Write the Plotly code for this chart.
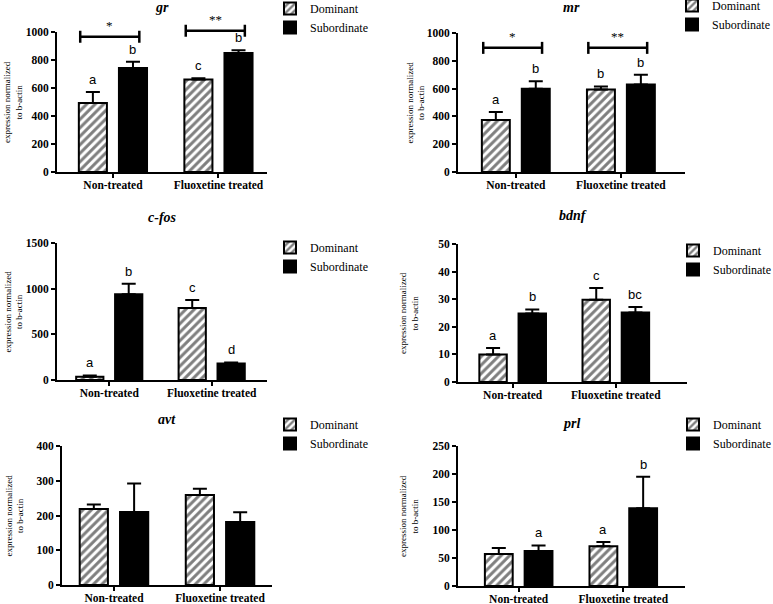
import plotly.graph_objects as go

# ---------------- data ----------------
groups = ["Non-treated", "Fluoxetine treated"]
series_names = ["Dominant", "Subordinate"]
genes = ["gr", "mr", "c-fos", "bdnf", "avt", "prl"]

gr_dom = [493, 660]
gr_dom_err = [78, 9]
gr_sub = [743, 850]
gr_sub_err = [45, 19]

mr_dom = [375, 594]
mr_dom_err = [57, 22]
mr_sub = [599, 630]
mr_sub_err = [53, 69]

cfos_dom = [35, 788]
cfos_dom_err = [15, 88]
cfos_sub = [938, 180]
cfos_sub_err = [117, 12]

bdnf_dom = [10.0, 29.8]
bdnf_dom_err = [2.3, 4.3]
bdnf_sub = [24.8, 25.2]
bdnf_sub_err = [1.5, 2.0]

avt_dom = [219, 259]
avt_dom_err = [13, 18]
avt_sub = [210, 181]
avt_sub_err = [82, 28]

prl_dom = [57, 71]
prl_dom_err = [11, 7.6]
prl_sub = [62.5, 139]
prl_sub_err = [10, 56]

# letters of significance (dominant, subordinate)
gr_letters = (["a", "c"], ["b", "b"])
mr_letters = (["a", "b"], ["b", "b"])
cfos_letters = (["a", "c"], ["b", "d"])
bdnf_letters = (["a", "c"], ["b", "bc"])
avt_letters = (["", ""], ["", ""])
prl_letters = (["", "a"], ["a", "b"])

# bracket labels and heights per group
gr_brackets = (["*", "**"], [966, 1009])
mr_brackets = (["*", "**"], [893, 893])

y_max = [1000, 1000, 1500, 50, 400, 250]
y_dtick = [200, 200, 500, 10, 100, 50]

# ---------------- layout config ----------------
W, H = 773, 604
# pixel boxes: x_left, x_right, y_top, y_bottom ; and x ranges in category units
boxes = [
    (57, 267, 32, 172, [-0.53, 1.46]),
    (458, 685, 33, 172, [-0.55, 1.61]),
    (57, 267, 243, 380, [-0.51, 1.54]),
    (458, 687, 244, 382, [-0.53, 1.69]),
    (62, 272, 446, 585, [-0.49, 1.49]),
    (458, 685, 446, 586, [-0.58, 1.59]),
]
ytitle_x = [13, 415, 13, 409, 14, 409]
title_shift = [25, 26, 26, 29, 27, 23]
legend_pos = [(270, -6), (672, -9), (270, 233), (673, 236), (270, 410), (673, 410)]


def fx(px):
    return px / W


def fy(px):
    return 1 - px / H


panels = [
    (gr_dom, gr_dom_err, gr_sub, gr_sub_err, gr_letters, gr_brackets),
    (mr_dom, mr_dom_err, mr_sub, mr_sub_err, mr_letters, mr_brackets),
    (cfos_dom, cfos_dom_err, cfos_sub, cfos_sub_err, cfos_letters, None),
    (bdnf_dom, bdnf_dom_err, bdnf_sub, bdnf_sub_err, bdnf_letters, None),
    (avt_dom, avt_dom_err, avt_sub, avt_sub_err, avt_letters, None),
    (prl_dom, prl_dom_err, prl_sub, prl_sub_err, prl_letters, None),
]

BARGAP = 0.24
BARGROUPGAP = 0.30
OFF = (1 - BARGAP) / 4.0  # offset of each bar centre from category centre

SERIF = "Liberation Serif"
SANS = "Liberation Sans"

fig = go.Figure()
annotations = []
shapes = []
layout = {}

for i, (dom, dom_err, sub, sub_err, letters, brackets) in enumerate(panels):
    sfx = "" if i == 0 else str(i + 1)
    xa, ya = "x" + sfx, "y" + sfx
    leg = "legend" + sfx
    x0p, x1p, ytp, ybp, xr = boxes[i]

    common_err = dict(type="data", symmetric=False, arrayminus=[0, 0],
                      color="black", thickness=2, width=7)
    fig.add_trace(go.Bar(
        x=groups, y=dom, name=series_names[0],
        error_y=dict(array=dom_err, **common_err),
        marker=dict(color="white", line=dict(color="black", width=2),
                    pattern=dict(shape="/", fgcolor="black", bgcolor="white",
                                 size=6, solidity=0.5)),
        xaxis=xa, yaxis=ya, legend=leg,
    ))
    fig.add_trace(go.Bar(
        x=groups, y=sub, name=series_names[1],
        error_y=dict(array=sub_err, **common_err),
        marker=dict(color="black", line=dict(color="black", width=2)),
        xaxis=xa, yaxis=ya, legend=leg,
    ))

    axis_style = dict(showline=True, linecolor="black", linewidth=2,
                      ticks="outside", ticklen=4, tickwidth=2, tickcolor="black",
                      showgrid=False, zeroline=False, fixedrange=True)
    layout["xaxis" + sfx] = dict(
        domain=[fx(x0p), fx(x1p)], range=xr, anchor=ya,
        tickfont=dict(family=SERIF, size=11.5, color="black", weight="bold"),
        **axis_style)
    layout["yaxis" + sfx] = dict(
        domain=[fy(ybp), fy(ytp)], range=[0, y_max[i]], dtick=y_dtick[i],
        anchor=xa,
        tickfont=dict(family=SERIF, size=11.5, color="black", weight="bold"),
        **axis_style)

    lx, ly = legend_pos[i]
    layout[leg] = dict(x=fx(lx), y=fy(ly), xanchor="left", yanchor="top",
                       bgcolor="rgba(0,0,0,0)", tracegroupgap=0,
                       font=dict(family=SERIF, size=12, color="black"))

    # panel title
    annotations.append(dict(text=genes[i], xref=xa + " domain", yref=ya + " domain",
                            x=0.5, y=1, yshift=title_shift[i], showarrow=False,
                            xanchor="center", yanchor="middle",
                            font=dict(family=SERIF, size=14, color="black",
                                      weight="bold", style="italic")))
    # y-axis title
    annotations.append(dict(text="expression normalized<br>to b-actin",
                            xref="paper", yref=ya + " domain",
                            x=fx(ytitle_x[i]), y=0.5, textangle=-90, showarrow=False,
                            xanchor="center", yanchor="middle",
                            font=dict(family=SERIF, size=9, color="black")))
    # significance letters
    for j in range(len(groups)):
        for vals, errs, lets, sign in ((dom, dom_err, letters[0], -1),
                                       (sub, sub_err, letters[1], 1)):
            if lets[j]:
                annotations.append(dict(text=lets[j], xref=xa, yref=ya,
                                        x=j + sign * OFF, y=vals[j] + errs[j],
                                        yshift=3, showarrow=False,
                                        xanchor="center", yanchor="bottom",
                                        font=dict(family=SANS, size=13, color="black")))
    # significance brackets
    if brackets:
        labels, heights = brackets
        for j, (lab, hgt) in enumerate(zip(labels, heights)):
            bx0 = (j - 0.31 - xr[0]) / (xr[1] - xr[0])
            bx1 = (j + 0.25 - xr[0]) / (xr[1] - xr[0])
            by = hgt / y_max[i]
            shapes.append(dict(type="line", xref=xa + " domain", yref=ya + " domain",
                               x0=bx0, x1=bx1, y0=by, y1=by,
                               line=dict(color="black", width=2.5)))
            for bx in (bx0, bx1):
                shapes.append(dict(type="line", xref=xa + " domain", yref=ya + " domain",
                                   ysizemode="pixel", yanchor=by,
                                   x0=bx, x1=bx, y0=-6, y1=6,
                                   line=dict(color="black", width=2.5)))
            annotations.append(dict(text=lab, xref=xa + " domain", yref=ya + " domain",
                                    x=(bx0 + bx1) / 2, y=by, yshift=2, showarrow=False,
                                    xanchor="center", yanchor="bottom",
                                    font=dict(family=SERIF, size=13, color="black")))

fig.update_layout(
    width=W, height=H, autosize=False,
    margin=dict(l=0, r=0, t=0, b=0, autoexpand=False),
    paper_bgcolor="white", plot_bgcolor="white",
    barmode="group", bargap=BARGAP, bargroupgap=BARGROUPGAP,
    annotations=annotations, shapes=shapes,
    **layout,
)

# pull category labels slightly closer to the axis line
try:
    fig.update_xaxes(ticklabelstandoff=-3)
except Exception:
    pass

fig.write_html("out.html",
               config={"displayModeBar": False},
               post_script="document.body.style.margin='0';document.body.style.overflow='hidden';")
